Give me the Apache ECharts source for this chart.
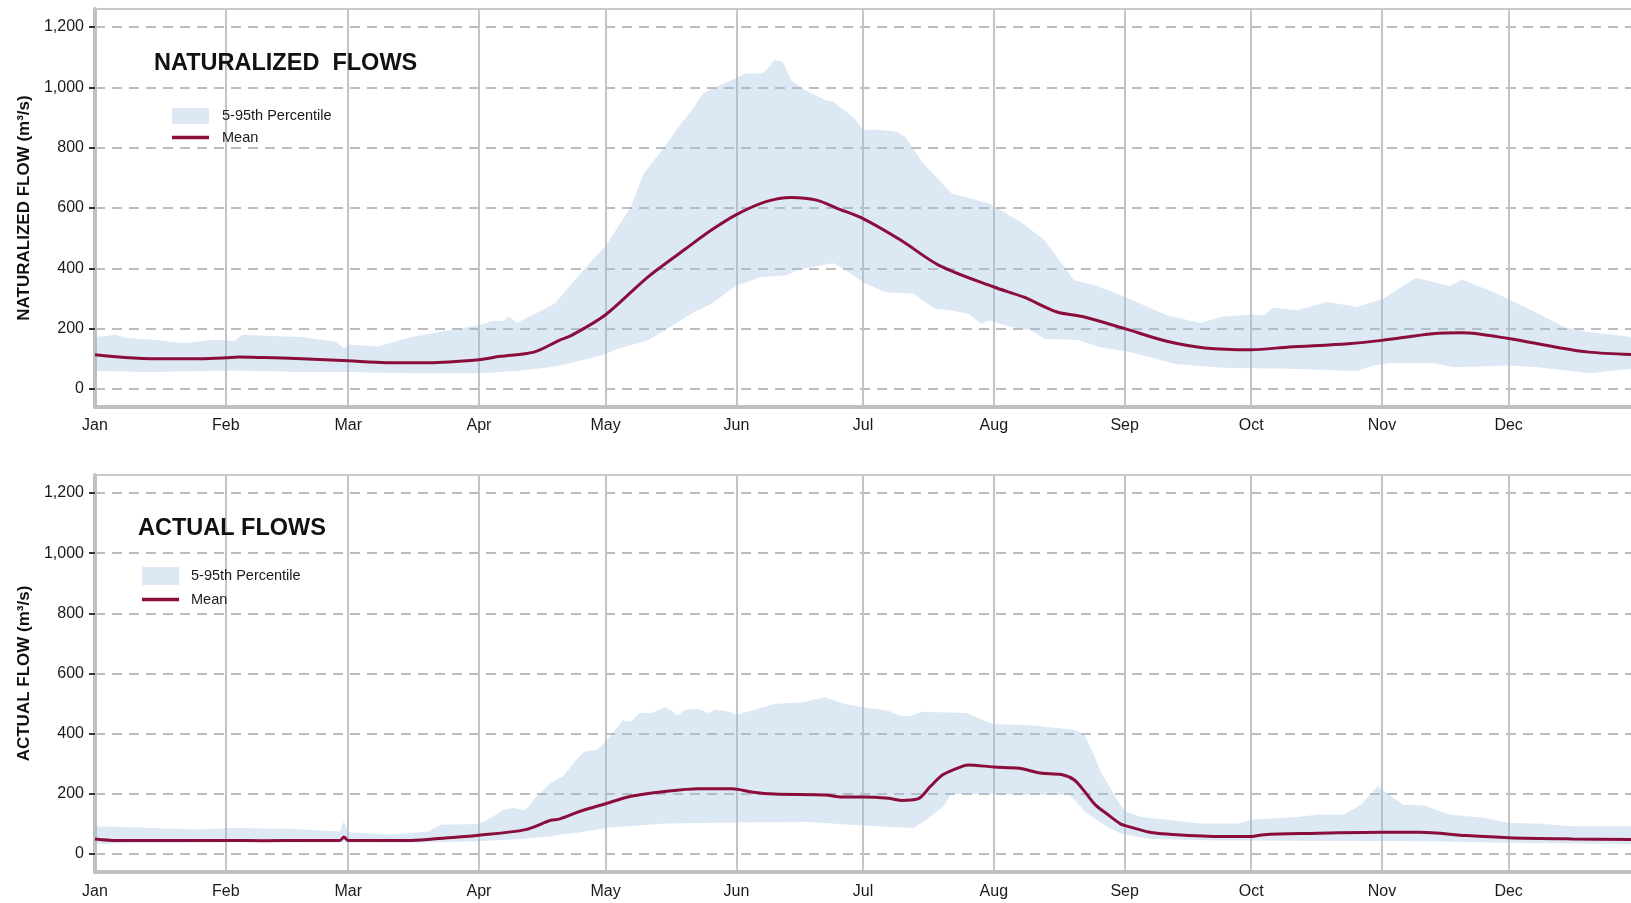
<!DOCTYPE html>
<html>
<head>
<meta charset="utf-8">
<title>Naturalized and Actual Flows</title>
<script src="https://cdn.jsdelivr.net/npm/echarts@6/dist/echarts.min.js"></script>
<style>
  html, body { margin: 0; padding: 0; background: #ffffff; }
  #chart { width: 1631px; height: 903px; }
</style>
</head>
<body>
<div id="chart"></div>
<script>
// Day-of-year axis (leap year): month starts and their labels
const monthStarts = [0, 31, 60, 91, 121, 152, 182, 213, 244, 274, 305, 335];
const monthNames = ['Jan', 'Feb', 'Mar', 'Apr', 'May', 'Jun', 'Jul', 'Aug', 'Sep', 'Oct', 'Nov', 'Dec'];
const flowTicks = [0, 200, 400, 600, 800, 1000, 1200];

// Naturalized flows (m3/s): [day of year, value]
const natMean = [[0,113],[7,104],[15,100],[25,100],[31,103],[34,106],[40,104],[49,100],[60,93],[69,87],[79,87],[91,97],[96,108],[104,122],[110,161],[113,178],[121,246],[131,371],[140,465],[146,526],[152,578],[159,621],[165,635],[171,626],[176,598],[182,565],[191,493],[200,410],[213,338],[220,305],[228,255],[234,240],[244,200],[254,158],[263,136],[274,130],[283,139],[297,150],[305,161],[317,183],[324,186],[335,167],[346,139],[354,122],[364,114]];
const natUpper = [[0,172],[5,180],[7,170],[14,162],[21,152],[28,163],[33,159],[35,180],[45,174],[49,172],[57,156],[59,136],[60,147],[67,141],[75,172],[83,192],[91,211],[94,224],[97,226],[98,241],[100,219],[109,283],[115,383],[121,474],[127,604],[130,714],[135,803],[138,864],[142,936],[144,980],[149,1013],[152,1030],[154,1046],[158,1046],[159,1055],[161,1091],[163,1085],[165,1024],[168,993],[173,958],[175,952],[177,930],[180,897],[182,858],[185,860],[190,853],[192,836],[196,753],[203,648],[212,615],[220,548],[225,493],[232,360],[237,344],[242,317],[244,306],[254,244],[262,219],[267,239],[274,247],[277,244],[279,269],[285,261],[292,289],[299,272],[305,297],[313,369],[321,341],[324,363],[332,317],[335,297],[342,250],[348,206],[354,189],[364,172]];
const natLower = [[0,59],[13,56],[33,61],[49,56],[60,56],[75,52],[91,52],[100,59],[109,74],[117,100],[121,116],[124,133],[131,161],[135,194],[142,255],[146,282],[152,343],[158,371],[164,377],[166,393],[170,404],[175,417],[178,393],[182,354],[187,321],[194,316],[199,266],[203,260],[207,249],[210,216],[212,227],[217,205],[222,194],[225,166],[233,162],[238,139],[244,126],[250,106],[256,83],[267,70],[283,67],[299,59],[303,78],[307,86],[317,86],[322,72],[335,78],[342,72],[354,52],[364,67]];

// Actual flows (m3/s): [day of year, value]
const actMean = [[0,50],[5,45],[20,45],[31,45],[40,44],[50,45],[58,45],[59,56],[60,45],[75,45],[83,53],[91,62],[102,81],[108,112],[110,116],[115,142],[121,167],[127,192],[135,208],[143,217],[151,217],[156,205],[161,199],[173,196],[177,189],[182,189],[188,185],[191,178],[195,183],[198,225],[201,264],[206,294],[207,296],[213,289],[219,285],[224,269],[229,264],[232,247],[234.5,208],[237,164],[240,131],[243,100],[244,95],[250,72],[254,66],[267,58],[274,58],[277,64],[287,68],[305,72],[314,72],[325,61],[335,54],[350,50],[364,48]];
const actUpper = [[0,92],[10,88],[24,81],[32,86],[46,84],[58,75],[59,109],[60,72],[70,64],[79,75],[82,97],[91,100],[93,114],[97,147],[99,153],[102,145],[104,181],[108,236],[111,258],[114,313],[116,341],[119,346],[121,374],[123,407],[125,444],[127,440],[129,469],[132,469],[135,489],[137,474],[138,460],[140,480],[143,482],[145.5,469],[147,480],[150.6,472],[152,463],[156.5,480],[161,499],[168,505],[173,521],[177.7,499],[182,488],[188,476],[191,458],[193,458],[196,473],[206.5,469],[211.6,438],[213,432],[222.6,427],[232,413],[234.5,399],[237,320],[238.4,270],[240,235],[242,185],[244,142],[248,123],[262,101],[271,101],[274,114],[285,123],[290,131],[296,131],[300,164],[304,225],[310,164],[315,161],[321,131],[329,120],[335,103],[342,101],[350,92],[364,92]];
const actLower = [[0,34],[33,39],[75,37],[91,42],[101,50],[108,59],[110,64],[115,72],[121,86],[135,101],[152,105],[169,106],[182,95],[194,86],[197,114],[201,158],[203,199],[210,199],[220,197],[231,197],[233,165],[235,136],[239.6,92],[243,68],[250,50],[266,45],[316,42],[335,37],[364,33]];

const FONT = 'Arial, "Liberation Sans", sans-serif';
const MEAN_COLOR = '#8a0d3c';
const BAND_COLOR = 'rgba(155,192,226,0.35)';
const LEGEND_BAND = '#dce9f5';

const panels = [
  { top: 9, height: 398, yName: 'NATURALIZED FLOW (m\u00b3/s)', title: 'NATURALIZED  FLOWS',
    titleLeft: 154, titleTop: 52, legendLeft: 172, legendTop: 108, itemH: 16, itemGap: 6, textPad: 8,
    labelMargin: 11, mean: natMean, upper: natUpper, lower: natLower },
  { top: 475, height: 397, yName: 'ACTUAL FLOW (m\u00b3/s)', title: 'ACTUAL FLOWS',
    titleLeft: 138, titleTop: 517, legendLeft: 142, legendTop: 567, itemH: 18, itemGap: 7, textPad: 7,
    labelMargin: 12, mean: actMean, upper: actUpper, lower: actLower }
];

const grid = [], xAxis = [], yAxis = [], series = [], title = [], legend = [];

panels.forEach((p, i) => {
  grid.push({ left: 95, right: 0, top: p.top, height: p.height, containLabel: false });

  // month axis at the bottom of each panel
  xAxis.push({
    type: 'value', gridIndex: i, min: 0, max: 364, position: 'bottom',
    axisLine: { show: true, onZero: false, lineStyle: { color: '#c0c0c0', width: 4 } },
    axisTick: { show: false, customValues: monthStarts },
    axisLabel: {
      customValues: monthStarts, margin: p.labelMargin, fontSize: 16, fontFamily: FONT, color: '#1a1a1a',
      formatter: v => monthNames[monthStarts.indexOf(v)]
    },
    splitLine: { show: true, lineStyle: { color: '#c4c4c4', width: 2, type: 'solid' } }
  });

  yAxis.push({
    type: 'value', gridIndex: i, min: -60, max: 1260,
    name: p.yName, nameLocation: 'middle', nameGap: 62,
    nameTextStyle: { fontSize: 17, fontWeight: 'bold', fontFamily: FONT, color: '#111' },
    axisLine: { show: true, onZero: false, lineStyle: { color: '#c0c0c0', width: 4 } },
    axisTick: { show: true, customValues: flowTicks, length: 6, lineStyle: { color: '#333', width: 2 } },
    axisLabel: {
      customValues: flowTicks, margin: 11, fontSize: 16, fontFamily: FONT, color: '#1a1a1a',
      formatter: v => v.toLocaleString('en-US')
    },
    splitLine: { show: true, lineStyle: { color: '#bdbdbd', width: 2, type: [10, 7] } }
  });

  title.push({
    text: p.title, left: p.titleLeft, top: p.titleTop, padding: 0,
    textStyle: { fontSize: 23.5, fontWeight: 'bold', fontFamily: FONT, color: '#111' }
  });

  legend.push({
    orient: 'vertical', left: p.legendLeft, top: p.legendTop, padding: 0,
    itemWidth: 37, itemHeight: p.itemH, itemGap: p.itemGap, selectedMode: false,
    textStyle: { fontSize: 14.5, fontFamily: FONT, color: '#1a1a1a', padding: [0, 0, 0, p.textPad] },
    data: [
      { name: '5-95th Percentile', icon: 'rect', itemStyle: { color: LEGEND_BAND } },
      { name: 'Mean', icon: 'path://M0 0H32V3H0Z', itemStyle: { color: MEAN_COLOR } }
    ]
  });

  // 5th–95th percentile band as one polygon through the axis scales
  const upper = p.upper, lower = p.lower;
  series.push({
    type: 'custom', name: '5-95th Percentile', xAxisIndex: i, yAxisIndex: i,
    itemStyle: { color: LEGEND_BAND }, silent: true,
    data: [[0, 0]],
    renderItem: (params, api) => {
      const pts = upper.map(d => api.coord(d)).concat(lower.slice().reverse().map(d => api.coord(d)));
      return { type: 'polygon', shape: { points: pts }, style: { fill: BAND_COLOR } };
    }
  });

  series.push({
    type: 'line', name: 'Mean', xAxisIndex: i, yAxisIndex: i,
    data: p.mean, showSymbol: false, symbol: 'none', smooth: 0.3,
    itemStyle: { color: MEAN_COLOR },
    lineStyle: { color: MEAN_COLOR, width: 3 }
  });
});

// thin frame line along the top of each panel
panels.forEach((p, i) => {
  xAxis.push({
    type: 'value', gridIndex: i, min: 0, max: 364, position: 'top',
    axisLine: { show: true, onZero: false, lineStyle: { color: '#c8c8c8', width: 2 } },
    axisTick: { show: false }, axisLabel: { show: false }, splitLine: { show: false }
  });
});

const chart = echarts.init(document.getElementById('chart'), null, { renderer: 'canvas' });
chart.setOption({
  animation: false,
  backgroundColor: '#ffffff',
  title, legend, grid, xAxis, yAxis, series
});
</script>
</body>
</html>
